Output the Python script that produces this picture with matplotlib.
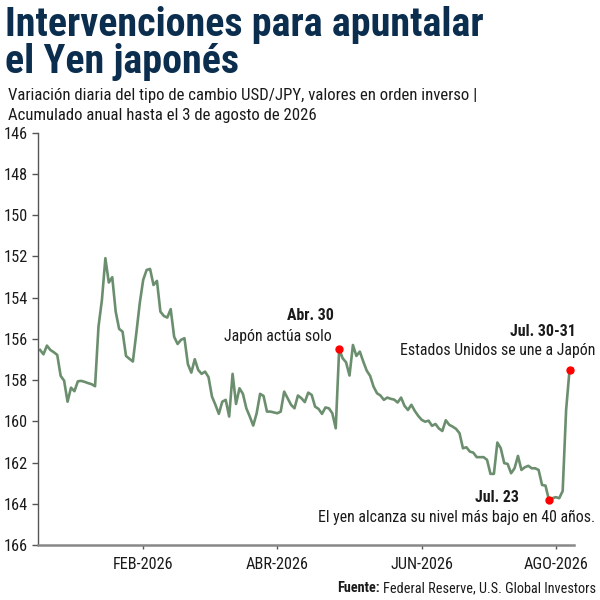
import numpy as np
import matplotlib
matplotlib.use("Agg")
import matplotlib.pyplot as plt
from matplotlib import font_manager


# pick a narrow font if there is one
fonts = font_manager.fontManager.ttflist
names = {f.name for f in fonts}
family = "DejaVu Sans"
for cand in ["Roboto Condensed", "Liberation Sans Narrow", "Roboto", "Liberation Sans"]:
    if cand in names:
        family = cand
        break
plt.rcParams["font.family"] = [family, "DejaVu Sans"]

# USD/JPY daily close
usdjpy = [
    156.54, 156.75, 156.33, 156.54, 156.65, 156.78, 157.80, 158.03, 159.05, 158.37,
    158.54, 158.06, 158.04, 158.09, 158.15, 158.20, 158.30, 155.41, 154.11, 152.09,
    153.27, 153.01, 154.68, 155.52, 155.65, 156.83, 156.97, 157.10, 155.73, 154.27,
    153.14, 152.66, 152.61, 153.39, 153.19, 154.68, 154.89, 154.97, 154.56, 155.90,
    156.25, 156.05, 155.97, 157.23, 157.64, 156.99, 157.51, 157.70, 157.59, 157.86,
    158.80, 159.20, 159.64, 159.05, 158.96, 159.77, 157.70, 159.16, 158.40, 158.67,
    159.37, 159.77, 160.21, 159.61, 158.67, 158.77, 159.53, 159.53, 159.57, 159.61,
    159.53, 158.56, 158.88, 159.20, 159.37, 158.75, 158.88, 159.07, 158.61, 158.72,
    159.29, 159.40, 159.64, 159.33, 159.37, 159.61, 160.34, 156.49, 156.94, 157.14,
    157.78, 156.30, 156.83, 156.62, 157.10, 157.54, 157.80, 158.32, 158.64, 158.75,
    158.96, 158.85, 158.91, 158.95, 159.09, 158.85, 159.25, 159.45, 159.20, 159.50,
    159.74, 159.93, 160.02, 159.97, 160.22, 160.13, 160.35, 160.47, 159.95, 160.17,
    160.26, 160.37, 160.58, 161.31, 161.26, 161.47, 161.52, 161.74, 161.74, 161.74,
    161.87, 162.55, 162.55, 161.03, 161.31, 162.03, 162.07, 162.52, 162.28, 161.68,
    162.36, 162.23, 162.16, 162.28, 162.28, 162.36, 163.09, 163.12, 163.81, 163.73,
    163.68, 163.73, 163.38, 159.45, 157.50, 157.46,
]

# trading-day index of each month label
month_idx = [30, 69, 111, 150]
month_labels = ["FEB-2026", "ABR-2026", "JUN-2026", "AGO-2026"]

# highlighted days (trading-day index)
event_idx = [87, 148, 154]

x = np.arange(len(usdjpy))
y = np.array(usdjpy)

navy = "#0b2e4f"
ink = "#1a1a1a"
line_col = "#6b8f6e"

fig = plt.figure(figsize=(6, 6), dpi=100)
ax = fig.add_axes([0.0633, 0.0917, 0.8934, 0.6872])
renderer = fig.canvas.get_renderer()


def fit(t, width_px):
    # scale the font so the text is as wide as in the reference
    w = t.get_window_extent(renderer).width
    t.set_fontsize(t.get_fontsize() * width_px / w)
    return t


def size_for(s, width_px, bold=False):
    t = fit(fig.text(0, 0, s, fontsize=12, fontweight="bold" if bold else "normal"), width_px)
    fs = t.get_fontsize()
    t.remove()
    return fs


ax.plot(x, y, color=line_col, lw=1.9, solid_joinstyle="round")
ax.plot(x[event_idx], y[event_idx], "o", color="#ff0000", ms=5, zorder=3)

ax.set_ylim(166, 146)
ax.set_xlim(-0.6, 155.3)
ax.set_yticks(np.arange(146, 167, 2))
ax.set_xticks(month_idx)
ax.set_xticklabels(month_labels)

for s in ["top", "right"]:
    ax.spines[s].set_visible(False)
ax.spines["left"].set_color("#555555")
ax.spines["left"].set_linewidth(1.0)
ax.spines["bottom"].set_color("#888888")
ax.spines["bottom"].set_linewidth(1.8)
tick_fs = size_for("FEB-2026", 60)
ax.tick_params(axis="y", length=4, width=1, color="#555555", labelcolor=ink, pad=3,
               labelsize=tick_fs)
ax.tick_params(axis="x", length=3, width=1, color="#555555", labelcolor=ink, pad=6,
               labelsize=tick_fs)

# annotations: right edge x, centre y (reference pixels)
note_fs = size_for("El yen alcanza su nivel más bajo en 40 años.", 277)


def label(xp, yp, s, bold=False):
    fig.text(xp / 600, 1 - yp / 600, s, ha="right", va="center", fontsize=note_fs,
             fontweight="bold" if bold else "normal", color=ink)


label(334, 316, "Abr. 30", bold=True)
label(332, 336, "Japón actúa solo")
label(576, 332, "Jul. 30-31", bold=True)
label(595, 351, "Estados Unidos se une a Japón")
label(519, 498, "Jul. 23", bold=True)
label(595, 517, "El yen alcanza su nivel más bajo en 40 años.")

title = fig.text(0.008, 1 - 6 / 600, "Intervenciones para apuntalar\nel Yen japonés",
                 ha="left", va="top", fontsize=30, fontweight="bold", color=navy,
                 linespacing=0.98)
fit(title, 480)
sub = fig.text(0.013, 1 - 88 / 600,
               "Variación diaria del tipo de cambio USD/JPY, valores en orden inverso |\n"
               "Acumulado anual hasta el 3 de agosto de 2026",
               ha="left", va="top", fontsize=12.5, color=ink, linespacing=1.45)
fit(sub, 470)

# source line, right aligned
src_fs = size_for("Fuente: Federal Reserve, U.S. Global Investors", 258)
src = fig.text(596 / 600, 1 - 588 / 600, "Federal Reserve, U.S. Global Investors",
               ha="right", va="center", fontsize=src_fs, color=ink)
sx = src.get_window_extent(renderer).x0
fig.text((sx - 3) / 600, 1 - 588 / 600, "Fuente:", ha="right", va="center",
         fontsize=src_fs, fontweight="bold", color=ink)

fig.savefig("out.png", dpi=100)
